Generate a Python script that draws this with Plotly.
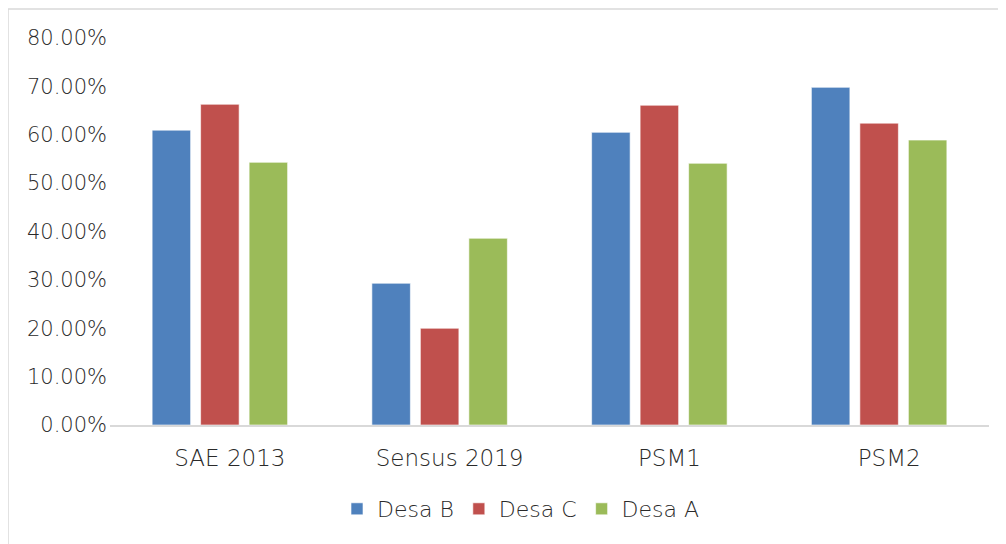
import plotly.graph_objects as go

categories = ["SAE 2013", "Sensus 2019", "PSM1", "PSM2"]
desa_b = [0.6095, 0.293, 0.605, 0.698]
desa_c = [0.663, 0.200, 0.661, 0.624]
desa_a = [0.543, 0.386, 0.541, 0.589]

series = [("Desa B", desa_b, "#4F81BD"), ("Desa C", desa_c, "#C0504D"), ("Desa A", desa_a, "#9BBB59")]

fig = go.Figure()
for name, vals, col in series:
    fig.add_trace(go.Bar(x=categories, y=vals, name=name,
                         marker=dict(color=col, line=dict(color="rgba(255,255,255,0.6)", width=1))))

# page has an 8px body margin, so the figure is placed at (8, 8)
OFF = 8
W, H = 1006 - OFF, 544 - OFF
L, T = 110 - OFF, 38 - OFF
R = W - (989 - OFF)
B = H - (425 - OFF)
pw, ph = W - L - R, H - T - B

FONT = "DejaVu Sans, sans-serif"
TXT = "#2a2a2a"
fig.update_layout(
    width=W, height=H,
    margin=dict(l=L, r=R, t=T, b=B, autoexpand=False),
    paper_bgcolor="white", plot_bgcolor="white",
    barmode="group", bargap=0.338, bargroupgap=0.206,
    font=dict(family=FONT, size=21, color=TXT, weight=300),
    showlegend=True,
    legend=dict(orientation="h", x=(521 - 110) / pw, xanchor="center", y=(425 - 509) / ph, yanchor="middle",
                font=dict(family=FONT, size=22, color=TXT, weight=300), itemwidth=30,
                traceorder="normal"),
    xaxis=dict(showline=True, linecolor="#D9D9D9", linewidth=2, ticks="", showgrid=False, automargin=False,
               tickfont=dict(family=FONT, size=23, color=TXT, weight=300), ticklabelstandoff=11,
               ticklabelshift=10),
    yaxis=dict(range=[0, 0.8], dtick=0.1, tickformat=".2%", showgrid=False, zeroline=False, automargin=False,
               showline=False, ticks="", ticklabelstandoff=2,
               tickfont=dict(family=FONT, size=21, color=TXT, weight=300)),
    shapes=[dict(type="rect", xref="paper", yref="paper",
                 x0=(8 - 110) / pw, x1=(1020 - 110) / pw, y0=(425 - 560) / ph, y1=1 + (38 - 9) / ph,
                 line=dict(color="#D9D9D9", width=1.5), fillcolor="rgba(0,0,0,0)", layer="below")],
)

fig.write_html("out.html")
